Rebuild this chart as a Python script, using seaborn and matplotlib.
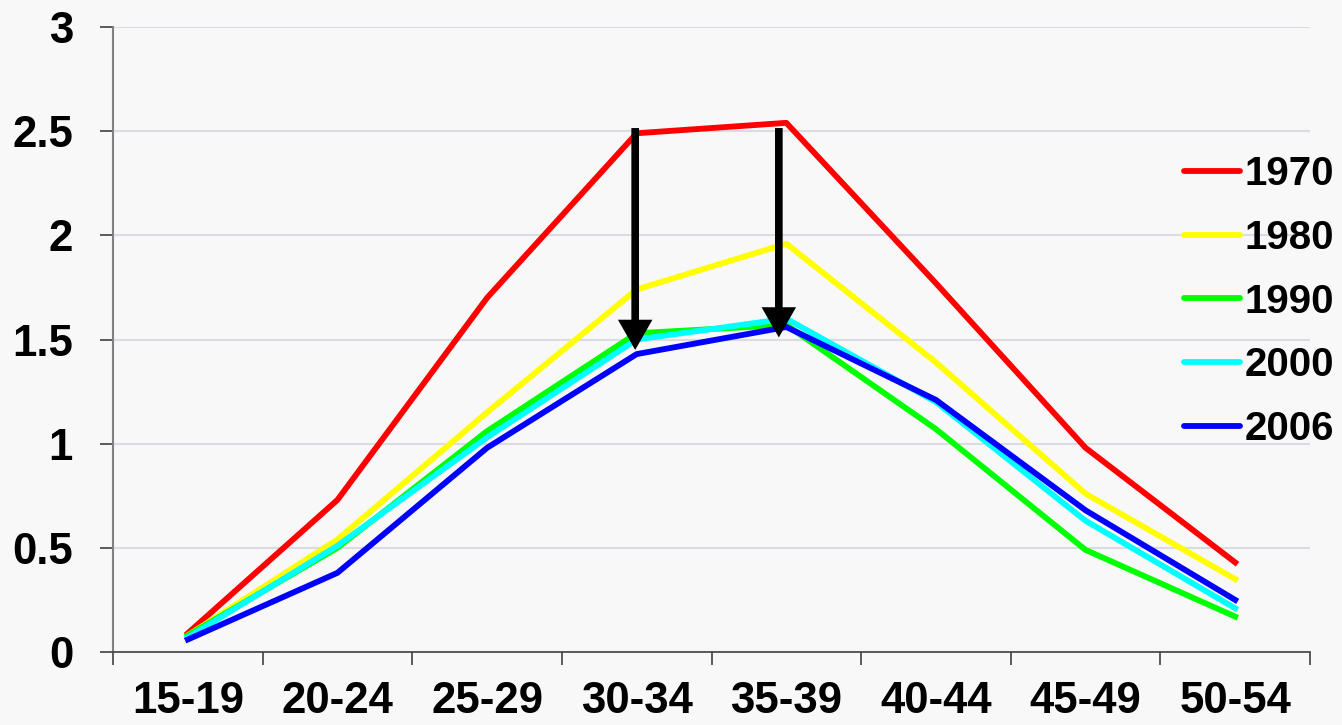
import numpy as np
import pandas as pd
import matplotlib
matplotlib.use("Agg")
import matplotlib.pyplot as plt
import seaborn as sns

# data
age_groups = ["15-19", "20-24", "25-29", "30-34", "35-39", "40-44", "45-49", "50-54"]
years = ["1970", "1980", "1990", "2000", "2006"]
rate_1970 = [0.09, 0.73, 1.70, 2.49, 2.54, 1.77, 0.98, 0.43]
rate_1980 = [0.08, 0.54, 1.15, 1.74, 1.96, 1.39, 0.76, 0.35]
rate_1990 = [0.08, 0.50, 1.06, 1.53, 1.57, 1.07, 0.49, 0.17]
rate_2000 = [0.07, 0.51, 1.03, 1.50, 1.60, 1.20, 0.63, 0.21]
rate_2006 = [0.06, 0.38, 0.98, 1.43, 1.56, 1.21, 0.68, 0.25]
line_colors = ["#FF0000", "#FFFF00", "#00FF00", "#00FFFF", "#0000FF"]
y_ticks = [0, 0.5, 1, 1.5, 2, 2.5, 3]
y_tick_labels = ["0", "0.5", "1", "1.5", "2", "2.5", "3"]

# arrows (start y, tip y) at category positions
arrow_x = [2.99, 3.95]
arrow_y_start = [2.515, 2.515]
arrow_y_tip = [1.45, 1.51]

all_rates = [rate_1970, rate_1980, rate_1990, rate_2000, rate_2006]
rows = []
for yr, vals in zip(years, all_rates):
    for age, v in zip(age_groups, vals):
        rows.append({"age": age, "rate": v, "year": yr})
df = pd.DataFrame(rows)

bg = "#f8f8f8"
plt.rcParams["font.family"] = ["Liberation Sans", "DejaVu Sans"]
plt.rcParams["font.weight"] = "bold"
fs = 31.5
fs_leg = 29

fig = plt.figure(figsize=(13.42, 7.25), dpi=100, facecolor=bg)
ax = fig.add_axes([113 / 1342, 1 - 652 / 725, (1310 - 113) / 1342, (652 - 27) / 725])
ax.set_facecolor(bg)

sns.lineplot(data=df, x="age", y="rate", hue="year", palette=dict(zip(years, line_colors)),
             linewidth=4.2, sort=False, ax=ax, legend=True)

# arrows
for xa, ys, yt in zip(arrow_x, arrow_y_start, arrow_y_tip):
    ax.annotate("", xy=(xa, yt), xytext=(xa, ys),
                arrowprops=dict(arrowstyle="-|>,head_length=0.42,head_width=0.24",
                                color="black", lw=5.5, mutation_scale=32,
                                shrinkA=0, shrinkB=0, joinstyle="miter",
                                capstyle="butt"),
                zorder=5)

ax.set_xlim(-0.5, 7.5)
ax.set_ylim(0, 3)
ax.set_yticks(y_ticks)
ax.set_yticklabels(y_tick_labels)
ax.set_xticks(range(len(age_groups)))
ax.set_xticklabels(age_groups)
ax.set_xticks(np.arange(-0.5, len(age_groups), 1), minor=True)
ax.tick_params(axis="x", which="major", length=0, pad=21, labelsize=fs)
ax.tick_params(axis="x", which="minor", length=9.4, width=1.2, color="#404040")
ax.tick_params(axis="y", length=9.4, width=1.2, color="#404040", pad=19.4, labelsize=fs)
for lab in ax.get_xticklabels() + ax.get_yticklabels():
    lab.set_fontweight("bold")

ax.grid(axis="y", color="#dcdbe4", linewidth=1.5)
ax.grid(axis="x", visible=False)
ax.set_axisbelow(True)
for s in ["top", "right"]:
    ax.spines[s].set_visible(False)
ax.spines["left"].set_color("#808080")
ax.spines["left"].set_linewidth(1.5)
ax.spines["bottom"].set_color("#404040")
ax.spines["bottom"].set_linewidth(1.2)
ax.set_xlabel("")
ax.set_ylabel("")

leg = ax.legend(loc="upper left", bbox_to_anchor=(1184 / 1342, 1 - 155 / 725),
                bbox_transform=fig.transFigure, frameon=False,
                prop={"size": fs_leg, "weight": "bold"},
                handlelength=1.38, handletextpad=0.12, labelspacing=0.64,
                borderpad=0, borderaxespad=0)
for line in leg.get_lines():
    line.set_linewidth(4.2)
    line.set_solid_capstyle("round")

fig.savefig("out.png", dpi=100, facecolor=bg)
